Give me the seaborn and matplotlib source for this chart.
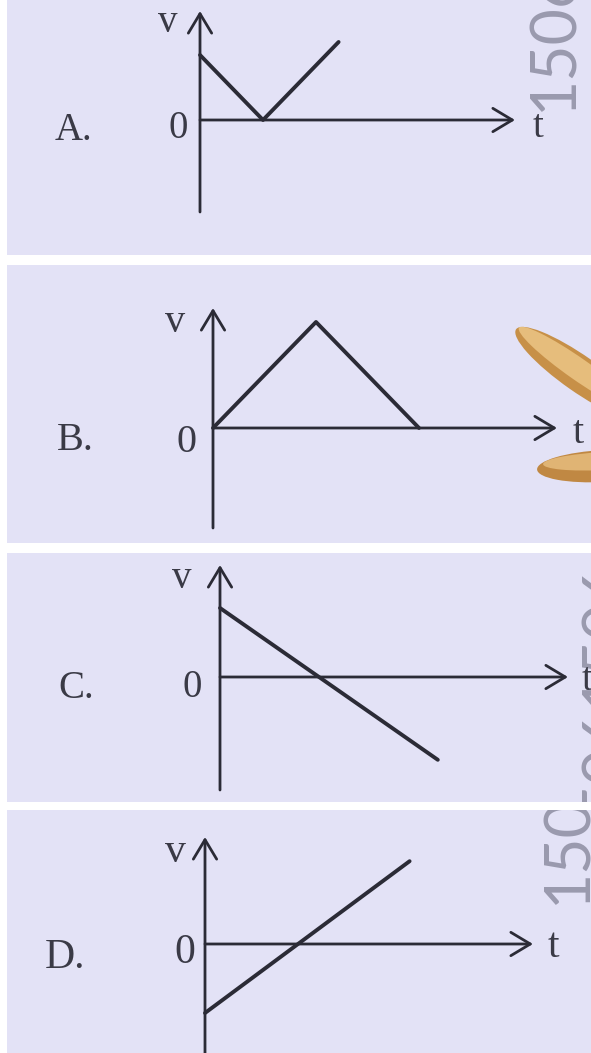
import matplotlib
matplotlib.use("Agg")
import matplotlib.pyplot as plt
import seaborn as sns
from matplotlib.transforms import Affine2D
from matplotlib.patches import Ellipse

# ---------------- data ----------------
panel_labels = ["A.", "B.", "C.", "D."]
a_t = [0.0, 1.0, 2.2]
a_v = [1.0, 0.0, 1.2]
b_t = [0.0, 1.0, 2.0]
b_v = [0.0, 1.0, 0.0]
c_t = [0.0, 2.2]
c_v = [1.0, -1.2]
d_t = [0.0, 2.2]
d_v = [-1.0, 1.2]
v_name = "v"
t_name = "t"
origin_name = "0"
watermarks = ["1506", "", "5061506", "150"]

series = [(a_t, a_v), (b_t, b_v), (c_t, c_v), (d_t, d_v)]

# ---------------- layout (image pixels, y downward) ----------------
W, H = 591, 1053
layout = [
    dict(rect=(7, 0, 591, 255), o=(200, 120), st=63, sv=65, ytop=11, ybot=212, xtip=515,
         lab=(55, 140), zero=(178, 138), vlab=(168, 32), tlab=(538, 137), tha="center",
         fs=28, wm=(554, 38)),
    dict(rect=(7, 265, 591, 543), o=(213, 428), st=103, sv=106, ytop=308, ybot=528, xtip=557,
         lab=(57, 450), zero=(186, 452), vlab=(175, 332), tlab=(578, 443), tha="center",
         fs=29, wm=None),
    dict(rect=(7, 553, 591, 802), o=(220, 677), st=99, sv=69, ytop=565, ybot=790, xtip=568,
         lab=(58, 698), zero=(192, 697), vlab=(182, 588), tlab=(582, 690), tha="left",
         fs=28, wm=(608, 690)),
    dict(rect=(7, 810, 591, 1053), o=(205, 944), st=93, sv=69, ytop=837, ybot=1070, xtip=533,
         lab=(45, 968), zero=(185, 963), vlab=(175, 862), tlab=(553, 957), tha="center",
         fs=30, wm=(568, 850)),
]

BG = "#e3e2f6"
INK = "#2b2b36"
TXT = "#3a3a46"
WMC = "#9a9aae"

sns.set_theme(style="white")
plt.rcParams["font.family"] = ["Liberation Serif", "DejaVu Serif"]

fig = plt.figure(figsize=(W / 100, H / 100), dpi=100, facecolor="white")
px = Affine2D().scale(1, -1).translate(0, H)  # image pixel coords -> display

for (t, v), L, name, wm in zip(series, layout, panel_labels, watermarks):
    l, tp, r, b = L["rect"]
    ox, oy = L["o"]
    st, sv = L["st"], L["sv"]
    ax = fig.add_axes([l / W, 1 - b / H, (r - l) / W, (b - tp) / H])
    ax.set_facecolor(BG)

    sns.lineplot(x=t, y=v, ax=ax, color=INK, lw=2.8, estimator=None, sort=False)

    ax.set_xlim((l - ox) / st, (r - ox) / st)
    ax.set_ylim((oy - b) / sv, (oy - tp) / sv)
    ax.set_xticks([])
    ax.set_yticks([])
    ax.set_xlabel("")
    ax.set_ylabel("")
    for s in ax.spines.values():
        s.set_visible(False)

    arrow = dict(arrowstyle="->,head_length=0.7,head_width=0.42", lw=2.0, color=INK,
                 mutation_scale=20, shrinkA=0, shrinkB=0)
    # t axis
    ax.annotate("", xy=((L["xtip"] - ox) / st, 0), xytext=(0, 0), arrowprops=arrow)
    # v axis
    ax.annotate("", xy=(0, (oy - L["ytop"]) / sv), xytext=(0, (oy - L["ybot"]) / sv),
                arrowprops=arrow, annotation_clip=False)

    fs = L["fs"]
    ax.text(*L["lab"], name, transform=px, fontsize=fs, color=TXT, ha="left", va="baseline")
    ax.text(*L["zero"], origin_name, transform=px, fontsize=fs, color=TXT, ha="center", va="baseline")
    ax.text(*L["vlab"], v_name, transform=px, fontsize=fs, color=TXT, ha="center", va="baseline")
    ax.text(*L["tlab"], t_name, transform=px, fontsize=fs, color=TXT, ha=L["tha"], va="baseline",
            clip_on=True)

    if wm and L["wm"] is not None:
        ax.text(*L["wm"], wm, transform=px, fontsize=45, color=WMC, rotation=90,
                ha="center", va="center", rotation_mode="anchor",
                family=["Lato", "DejaVu Sans"], fontweight="normal", clip_on=True, zorder=0.5)

    if name == "B.":
        # fingertips at the right edge of panel B
        for cx, cy, w, h, ang, col in [
            (580, 374, 156, 36, 35, "#c79048"),
            (578, 369, 144, 22, 35, "#e6bd7c"),
            (604, 466, 134, 32, -3, "#c08843"),
            (604, 461, 122, 18, -3, "#e0b474"),
        ]:
            ax.add_patch(Ellipse((cx, cy), w, h, angle=ang, transform=px,
                                 facecolor=col, edgecolor="none"))

fig.savefig("out.png", dpi=100, facecolor="white")
